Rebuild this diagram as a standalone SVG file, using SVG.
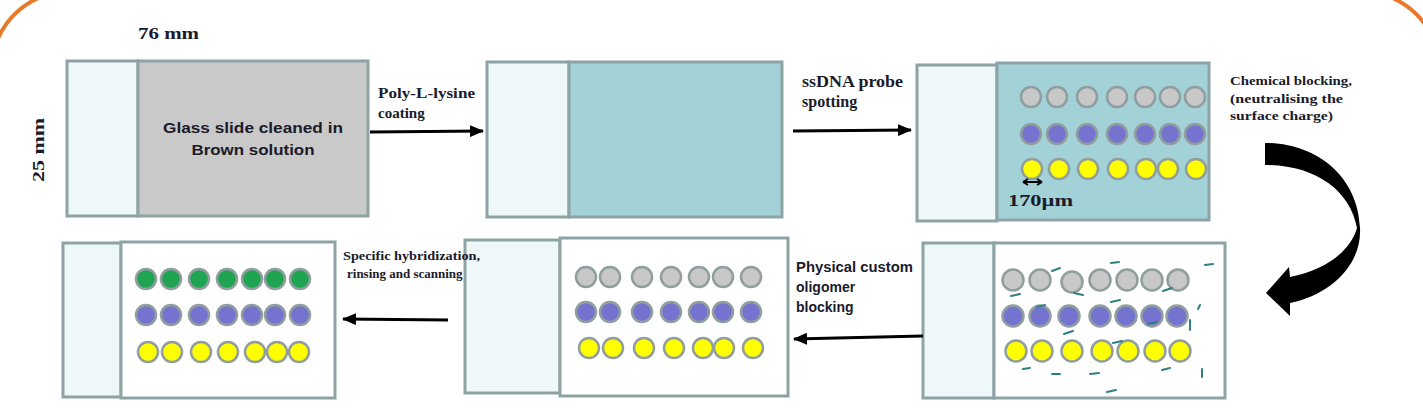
<svg xmlns="http://www.w3.org/2000/svg" width="1423" height="408" viewBox="0 0 1423 408">
<style>
.frame{fill:none;stroke:#E8782A;stroke-width:4}
.sl{stroke:#8DA3A4;stroke-width:3}
.lt{fill:#EEF8F9}
.gr{fill:#C9C9C9}
.tl{fill:#A3D1D8}
.wh{fill:#FFFFFF}
.d{stroke:#909E9E;stroke-width:2.5}
.dg{fill:#C8C8C8}
.db{fill:#7474D0}
.dy{fill:#FFFF00}
.dn{fill:#1FA452}
.ds{stroke:#2F8080;stroke-width:2;stroke-linecap:round}
.ar{stroke:#000;stroke-width:3;fill:none}
.serif{font-family:"Liberation Serif","DejaVu Serif",serif;font-weight:bold;fill:#1a1a2a}
.sans{font-family:"Liberation Sans",Arial,sans-serif;font-weight:bold;fill:#1a1a2a}
</style>
<defs>
<marker id="ah" markerUnits="userSpaceOnUse" markerWidth="14" markerHeight="12" refX="13" refY="6" orient="auto">
<path d="M0,0 L14,6 L0,12 Z" fill="#000"/>
</marker>
</defs>
<rect width="1423" height="408" fill="#FFFFFF"/>
<rect class="frame" x="-9" y="-9" width="1449" height="500" rx="80" ry="80"/>

<text class="serif" x="138" y="39" font-size="17" textLength="61" lengthAdjust="spacingAndGlyphs">76 mm</text>
<text class="serif" x="0" y="0" font-size="17" textLength="64" lengthAdjust="spacingAndGlyphs" transform="translate(44,182) rotate(-90)">25 mm</text>

<g id="slide1">
<rect class="sl lt" x="67" y="61" width="71" height="155"/>
<rect class="sl gr" x="138" y="61" width="230" height="155"/>
<text class="sans" x="253" y="133" font-size="15" text-anchor="middle" textLength="180" lengthAdjust="spacingAndGlyphs">Glass slide cleaned in</text>
<text class="sans" x="253" y="155" font-size="15" text-anchor="middle" textLength="123" lengthAdjust="spacingAndGlyphs">Brown solution</text>
</g>

<g id="slide2">
<rect class="sl lt" x="487" y="62" width="82" height="155"/>
<rect class="sl tl" x="569" y="62" width="213" height="155"/>
</g>

<g id="slide3">
<rect class="sl lt" x="917" y="65" width="80" height="156"/>
<rect class="sl tl" x="997" y="63" width="212" height="157"/>
<g class="d">
<circle class="dg" cx="1031" cy="97" r="10"/><circle class="dg" cx="1057" cy="97" r="10"/><circle class="dg" cx="1087" cy="97" r="10"/><circle class="dg" cx="1117" cy="97" r="10"/><circle class="dg" cx="1145" cy="97" r="10"/><circle class="dg" cx="1170" cy="97" r="10"/><circle class="dg" cx="1195" cy="97" r="10"/>
<circle class="db" cx="1031" cy="134" r="10"/><circle class="db" cx="1057" cy="134" r="10"/><circle class="db" cx="1087" cy="134" r="10"/><circle class="db" cx="1117" cy="134" r="10"/><circle class="db" cx="1145" cy="134" r="10"/><circle class="db" cx="1170" cy="134" r="10"/><circle class="db" cx="1195" cy="134" r="10"/>
<circle class="dy" cx="1032" cy="169" r="10"/><circle class="dy" cx="1059" cy="169" r="10"/><circle class="dy" cx="1088" cy="169" r="10"/><circle class="dy" cx="1118" cy="169" r="10"/><circle class="dy" cx="1146" cy="169" r="10"/><circle class="dy" cx="1168" cy="169" r="10"/><circle class="dy" cx="1196" cy="169" r="10"/>
</g>
<path d="M1023,182 H1042 M1023,182 l5,-3 M1023,182 l5,3 M1042,182 l-5,-3 M1042,182 l-5,3" stroke="#000" stroke-width="1.8" fill="none"/>
<text class="serif" x="1008" y="206" font-size="17" textLength="65" lengthAdjust="spacingAndGlyphs">170µm</text>
</g>

<g id="slide6">
<rect class="sl lt" x="923" y="243" width="71" height="155"/>
<rect class="sl wh" x="994" y="243" width="231" height="155"/>
<g class="d">
<circle class="dg" cx="1013" cy="280" r="10.5"/><circle class="dg" cx="1040" cy="280" r="10.5"/><circle class="dg" cx="1072" cy="282" r="10.5"/><circle class="dg" cx="1100" cy="280" r="10.5"/><circle class="dg" cx="1127" cy="280" r="10.5"/><circle class="dg" cx="1152" cy="280" r="10.5"/><circle class="dg" cx="1178" cy="280" r="10.5"/>
<circle class="db" cx="1013" cy="316" r="10.5"/><circle class="db" cx="1040" cy="316" r="10.5"/><circle class="db" cx="1069" cy="316" r="10.5"/><circle class="db" cx="1100" cy="316" r="10.5"/><circle class="db" cx="1126" cy="316" r="10.5"/><circle class="db" cx="1152" cy="316" r="10.5"/><circle class="db" cx="1177" cy="316" r="10.5"/>
<circle class="dy" cx="1016" cy="351" r="10.5"/><circle class="dy" cx="1042" cy="351" r="10.5"/><circle class="dy" cx="1072" cy="351" r="10.5"/><circle class="dy" cx="1102" cy="351" r="10.5"/><circle class="dy" cx="1128" cy="351" r="10.5"/><circle class="dy" cx="1155" cy="351" r="10.5"/><circle class="dy" cx="1180" cy="351" r="10.5"/>
</g>
<path class="ds" d="M1052,271 L1060,268 M1111,263 L1119,262 M1205,265 L1213,264 M1011,296 L1020,294 M1074,293 L1083,295 M1163,291 L1172,288 M1037,307 L1045,305 M1111,302 L1120,300 M1198,309 L1200,305 M1190,320 L1190,330 M1148,324 L1157,322 M1064,334 L1073,331 M1113,343 L1122,341 M1023,369 L1030,368 M1052,374 L1060,374 M1090,374 L1099,373 M1162,370 L1170,368 M1202,369 L1202,377 M1107,392 L1116,390"/>
</g>

<g id="slide5">
<rect class="sl lt" x="465" y="240" width="95" height="153"/>
<rect class="sl wh" x="560" y="238" width="228" height="158" stroke-width="3.5"/>
<g class="d">
<circle class="dg" cx="586" cy="277" r="10"/><circle class="dg" cx="610" cy="277" r="10"/><circle class="dg" cx="642" cy="277" r="10"/><circle class="dg" cx="671" cy="277" r="10"/><circle class="dg" cx="699" cy="277" r="10"/><circle class="dg" cx="723" cy="277" r="10"/><circle class="dg" cx="751" cy="277" r="10"/>
<circle class="db" cx="586" cy="312" r="10"/><circle class="db" cx="610" cy="312" r="10"/><circle class="db" cx="642" cy="312" r="10"/><circle class="db" cx="671" cy="312" r="10"/><circle class="db" cx="699" cy="312" r="10"/><circle class="db" cx="723" cy="312" r="10"/><circle class="db" cx="751" cy="312" r="10"/>
<circle class="dy" cx="589" cy="348" r="10"/><circle class="dy" cx="613" cy="348" r="10"/><circle class="dy" cx="644" cy="348" r="10"/><circle class="dy" cx="674" cy="348" r="10"/><circle class="dy" cx="703" cy="348" r="10"/><circle class="dy" cx="724" cy="348" r="10"/><circle class="dy" cx="753" cy="348" r="10"/>
</g>
</g>

<g id="slide4">
<rect class="sl lt" x="63" y="243" width="58" height="154"/>
<rect class="sl wh" x="121" y="242" width="214" height="156"/>
<g class="d">
<circle class="dn" cx="146" cy="279" r="10"/><circle class="dn" cx="171" cy="279" r="10"/><circle class="dn" cx="199" cy="279" r="10"/><circle class="dn" cx="227" cy="279" r="10"/><circle class="dn" cx="252" cy="279" r="10"/><circle class="dn" cx="275" cy="279" r="10"/><circle class="dn" cx="300" cy="279" r="10"/>
<circle class="db" cx="146" cy="315" r="10"/><circle class="db" cx="171" cy="315" r="10"/><circle class="db" cx="199" cy="315" r="10"/><circle class="db" cx="227" cy="315" r="10"/><circle class="db" cx="252" cy="315" r="10"/><circle class="db" cx="275" cy="315" r="10"/><circle class="db" cx="300" cy="315" r="10"/>
<circle class="dy" cx="148" cy="352" r="10"/><circle class="dy" cx="172" cy="352" r="10"/><circle class="dy" cx="201" cy="352" r="10"/><circle class="dy" cx="228" cy="352" r="10"/><circle class="dy" cx="255" cy="352" r="10"/><circle class="dy" cx="277" cy="352" r="10"/><circle class="dy" cx="299" cy="352" r="10"/>
</g>
</g>

<g id="connectors">
<line class="ar" x1="370" y1="132" x2="483" y2="131" marker-end="url(#ah)"/>
<line class="ar" x1="793" y1="131" x2="911" y2="130" marker-end="url(#ah)"/>
<path d="M1265,143 C1315,143 1358,175 1360,228 C1362,265 1330,295 1290,303 L1290,316 L1266,293 L1289,267 L1290,277 C1325,270 1350,252 1357,228 C1350,190 1315,165 1265,165 Z" fill="#000"/>
<line class="ar" x1="923" y1="336" x2="794" y2="339" marker-end="url(#ah)"/>
<line class="ar" x1="448" y1="320" x2="343" y2="319" marker-end="url(#ah)"/>
</g>

<g id="labels">
<text class="serif" x="378" y="98" font-size="15" textLength="97" lengthAdjust="spacingAndGlyphs">Poly-L-lysine</text>
<text class="serif" x="378" y="118" font-size="15">coating</text>
<text class="serif" x="802" y="87" font-size="16" textLength="101" lengthAdjust="spacingAndGlyphs">ssDNA probe</text>
<text class="serif" x="802" y="107" font-size="16">spotting</text>
<text class="serif" x="1230" y="85" font-size="12.5" textLength="122" lengthAdjust="spacingAndGlyphs">Chemical blocking,</text>
<text class="serif" x="1230" y="103" font-size="12.5" textLength="113" lengthAdjust="spacingAndGlyphs">(neutralising  the</text>
<text class="serif" x="1230" y="120" font-size="12.5" textLength="103" lengthAdjust="spacingAndGlyphs">surface charge)</text>
<text class="sans" x="796" y="272" font-size="14" textLength="117" lengthAdjust="spacingAndGlyphs" fill="#1a1a3a">Physical custom</text>
<text class="sans" x="796" y="292" font-size="14">oligomer</text>
<text class="sans" x="796" y="312" font-size="14">blocking</text>
<text class="serif" x="343" y="260" font-size="13" textLength="137" lengthAdjust="spacingAndGlyphs">Specific hybridization,</text>
<text class="serif" x="347" y="278" font-size="13">rinsing and scanning</text>
</g>
</svg>
